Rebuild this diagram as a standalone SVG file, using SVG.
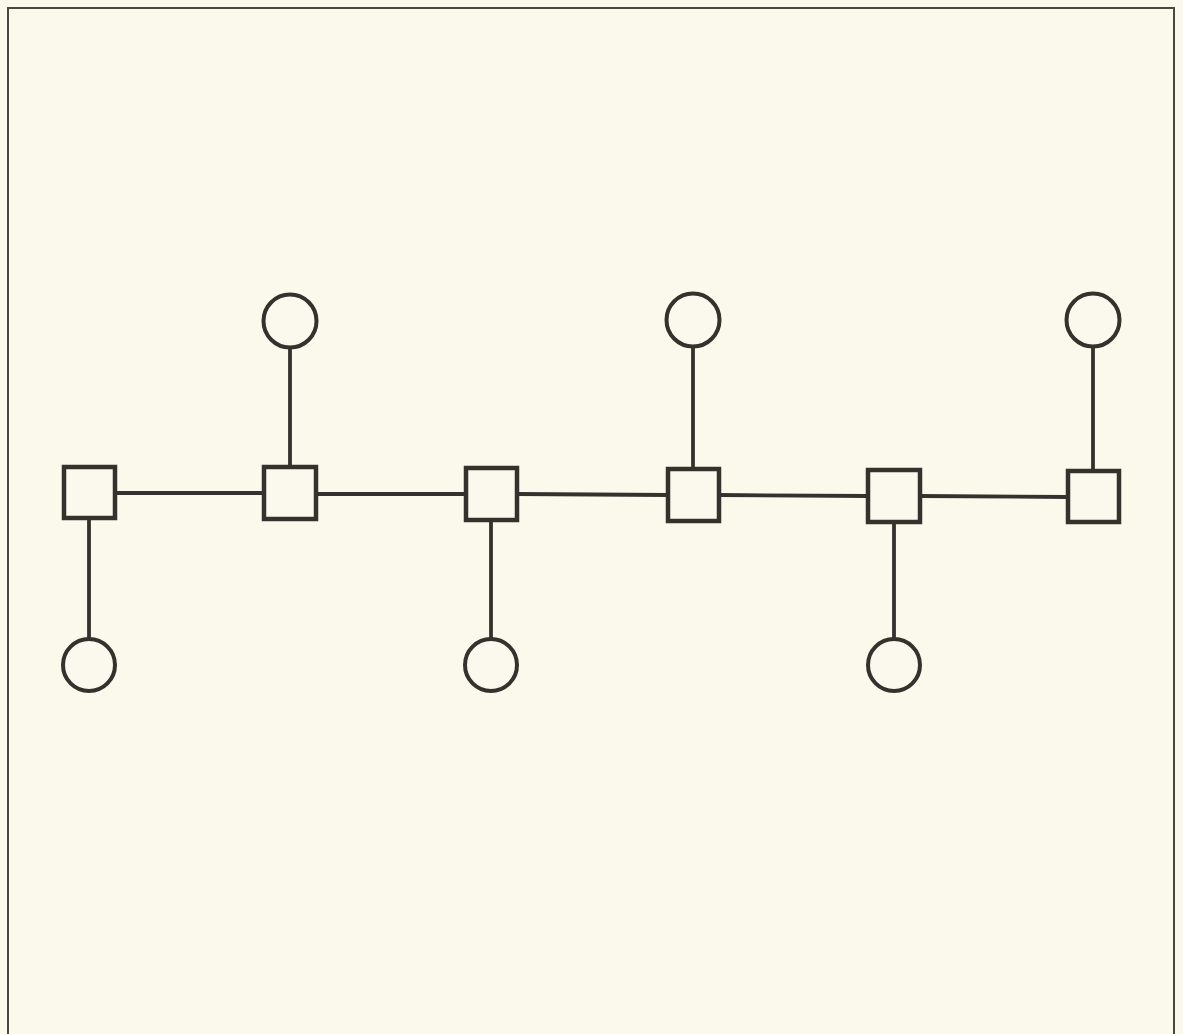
<svg xmlns="http://www.w3.org/2000/svg" width="1183" height="1034" viewBox="0 0 1183 1034">
<style>
.sq{fill:#fbf9ee;stroke:#35312c;stroke-width:4.5}
.ci{fill:#fbf9ee;stroke:#35312c;stroke-width:4}
.ln{stroke:#35312c;stroke-width:3.8;fill:none}
.frame{fill:none;stroke:#4a4742;stroke-width:2}
</style>
<rect x="0" y="0" width="1183" height="1034" fill="#fbf9ec"/>
<path class="frame" d="M8,1040 V8 H1174 V1040"/>
<g id="connectors">
<line class="ln" x1="115" y1="493" x2="264" y2="493"/>
<line class="ln" x1="316" y1="494" x2="466" y2="494"/>
<line class="ln" x1="517" y1="494" x2="668" y2="495"/>
<line class="ln" x1="719" y1="495" x2="868" y2="496"/>
<line class="ln" x1="920" y1="496" x2="1068" y2="497"/>
<line class="ln" x1="89" y1="518" x2="89" y2="639"/>
<line class="ln" x1="290" y1="348" x2="290" y2="467"/>
<line class="ln" x1="491" y1="520" x2="491" y2="639"/>
<line class="ln" x1="693" y1="347" x2="693" y2="469"/>
<line class="ln" x1="894" y1="522" x2="894" y2="639"/>
<line class="ln" x1="1093" y1="347" x2="1093" y2="471"/>
</g>
<g id="s1"><rect class="sq" x="64" y="467" width="51" height="51"/></g>
<g id="s2"><rect class="sq" x="264" y="467" width="52" height="52"/></g>
<g id="s3"><rect class="sq" x="466" y="468" width="51" height="52"/></g>
<g id="s4"><rect class="sq" x="668" y="469" width="51" height="52"/></g>
<g id="s5"><rect class="sq" x="868" y="470" width="52" height="52"/></g>
<g id="s6"><rect class="sq" x="1068" y="471" width="51" height="51"/></g>
<g id="c1"><circle class="ci" cx="89" cy="665" r="26"/></g>
<g id="c2"><circle class="ci" cx="290" cy="321" r="26.5"/></g>
<g id="c3"><circle class="ci" cx="491" cy="665" r="26"/></g>
<g id="c4"><circle class="ci" cx="693" cy="320" r="26.5"/></g>
<g id="c5"><circle class="ci" cx="894" cy="665" r="26"/></g>
<g id="c6"><circle class="ci" cx="1093" cy="320" r="26.5"/></g>
</svg>
